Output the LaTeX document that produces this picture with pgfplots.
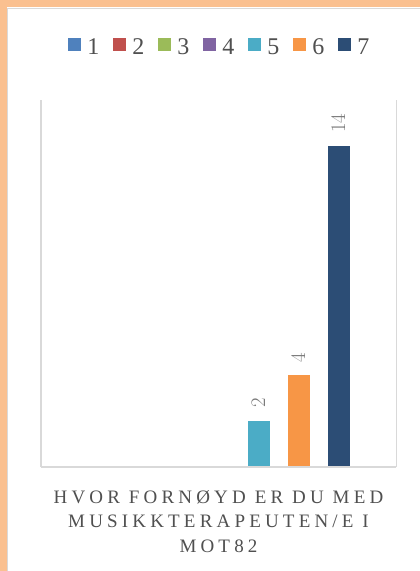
\documentclass[border=0pt]{standalone}
\usepackage{fontspec}
\setmainfont{Liberation Serif}
\usepackage{pgfplots}
\pgfplotsset{compat=1.18}
\definecolor{cA}{HTML}{4F81BD}
\definecolor{cB}{HTML}{C0504D}
\definecolor{cC}{HTML}{9BBB59}
\definecolor{cD}{HTML}{8064A2}
\definecolor{cE}{HTML}{4BACC6}
\definecolor{cF}{HTML}{F79646}
\definecolor{cG}{HTML}{2C4D75}
\definecolor{bord}{HTML}{FAC090}
\definecolor{txt}{HTML}{505050}
\definecolor{lab}{HTML}{7A7A7A}
\definecolor{grid}{HTML}{D9D9D9}
\begin{document}
\begin{tikzpicture}[x=1pt,y=1pt]
\useasboundingbox (0,0) rectangle (420,571);
\fill[white] (0,0) rectangle (420,571);
\fill[bord] (0,0) rectangle (6.5,571);
\fill[bord] (0,563.5) rectangle (420,571);
\draw[grid, line width=0.8pt] (7,0) -- (7,563) -- (420,563);
\begin{axis}[
  at={(41pt,104pt)}, anchor=south west,
  scale only axis, width=355pt, height=367pt,
  ybar=18pt, bar width=22pt,
  xmin=-1, xmax=1, ymin=0, ymax=16,
  axis on top,
  axis x line*=bottom, axis y line*=left,
  axis line style={grid, line width=1.5pt},
  ytick=\empty,
  xtick={0},
  xticklabels={HVOR FORNØYD ER DU MED\\MUSIKKTERAPEUTEN/E I\\MOT82},
  major tick length=0pt,
  xticklabel style={align=center, anchor=north, yshift=-20pt,
    font=\addfontfeature{LetterSpace=22}\fontsize{19}{24.5}\selectfont, text=txt},
  nodes near coords style={rotate=90, anchor=west, font=\fontsize{20}{22}\selectfont, text=lab, inner sep=13pt},
  legend style={at={(0.504,1.143)}, anchor=center, draw=none, fill=none,
    legend columns=-1, font=\fontsize{24}{26}\selectfont, text=txt,
    /tikz/every odd column/.append style={column sep=4pt},
    /tikz/every even column/.append style={column sep=12pt},
    nodes={inner sep=2pt}},
  legend image code/.code={\fill[#1] (0pt,-3.5pt) rectangle (13pt,9.5pt);},
  clip=false,
]
\addplot[fill=cA, draw=none] coordinates {(0,0)};
\addplot[fill=cB, draw=none] coordinates {(0,0)};
\addplot[fill=cC, draw=none] coordinates {(0,0)};
\addplot[fill=cD, draw=none] coordinates {(0,0)};
\addplot[fill=cE, draw=none, nodes near coords] coordinates {(0,2)};
\addplot[fill=cF, draw=none, nodes near coords] coordinates {(0,4)};
\addplot[fill=cG, draw=none, nodes near coords] coordinates {(0,14)};
\legend{1,2,3,4,5,6,7}
\draw[grid, line width=1pt] (rel axis cs:1,0) -- (rel axis cs:1,1);
\end{axis}
\end{tikzpicture}
\end{document}
